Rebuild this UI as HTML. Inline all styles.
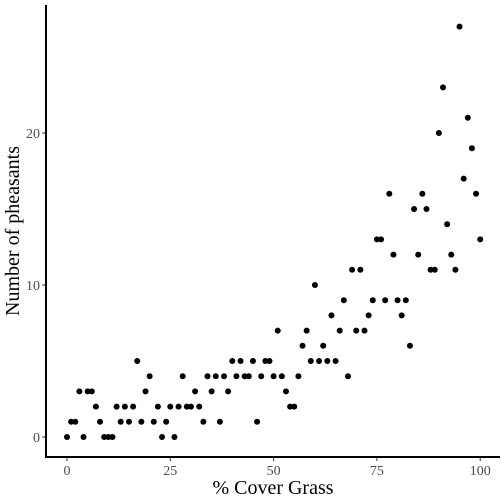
<!DOCTYPE html>
<html><head><meta charset="utf-8"><style>
body{margin:0;background:#fff}
svg{display:block;font-family:"Liberation Serif",serif}
</style></head><body>
<svg id="chart" width="504" height="504" viewBox="0 0 504 504" xmlns="http://www.w3.org/2000/svg">
<g id="ticks"></g>
<g id="points"></g>
<line x1="46" y1="5" x2="46" y2="457" stroke="#000" stroke-width="2"/>
<line x1="45" y1="457" x2="500" y2="457" stroke="#000" stroke-width="2"/>
<text x="273" y="494" font-size="20" text-anchor="middle">% Cover Grass</text>
<text transform="translate(19,231) rotate(-90)" font-size="20" text-anchor="middle">Number of pheasants</text>
</svg>
<script>
const coverGrass = [];
for (let i = 0; i <= 100; i++) coverGrass.push(i);
const pheasants = [0,1,1,3,0,3,3,2,1,0,0,0,2,1,2,1,2,5,1,3,4,1,2,0,1,2,0,2,4,2,2,3,2,1,4,3,4,1,4,3,5,4,5,4,4,5,1,4,5,5,4,7,4,3,2,2,4,6,7,5,10,5,6,5,8,5,7,9,4,11,7,11,7,8,9,13,13,9,16,12,9,8,9,6,15,12,16,15,11,11,20,23,14,12,11,27,17,21,19,16,13];
const xTicks = [0,25,50,75,100];
const yTicks = [0,10,20];
const NS='http://www.w3.org/2000/svg';
const xs = v => 67 + v*4.132;
const ys = v => 437 - v*15.2;
const tg = document.getElementById('ticks');
xTicks.forEach(t=>{
  const l=document.createElementNS(NS,'line');
  l.setAttribute('x1',xs(t));l.setAttribute('x2',xs(t));l.setAttribute('y1',458);l.setAttribute('y2',461);l.setAttribute('stroke','#333');
  
  
  tg.appendChild(l);
  const tx=document.createElementNS(NS,'text');
  tx.setAttribute('x',xs(t));tx.setAttribute('y',475);tx.setAttribute('text-anchor','middle');tx.setAttribute('font-size','14');tx.setAttribute('fill','#4d4d4d');
  tx.textContent=t;
  
  
  tg.appendChild(tx);
});
yTicks.forEach(t=>{
  const l=document.createElementNS(NS,'line');
  l.setAttribute('x1',42);l.setAttribute('x2',45);l.setAttribute('y1',ys(t));l.setAttribute('y2',ys(t));l.setAttribute('stroke','#333');
  
  
  tg.appendChild(l);
  const tx=document.createElementNS(NS,'text');
  tx.setAttribute('x',40);tx.setAttribute('y',ys(t)+5);tx.setAttribute('text-anchor','end');tx.setAttribute('font-size','14');tx.setAttribute('fill','#4d4d4d');
  tx.textContent=t;
  
  
  tg.appendChild(tx);
});
const pg=document.getElementById('points');
coverGrass.forEach((x,i)=>{
  const c=document.createElementNS(NS,'circle');
  c.setAttribute('cx',xs(x));c.setAttribute('cy',ys(pheasants[i]));c.setAttribute('r',3);c.setAttribute('fill','#000');
  
  
  pg.appendChild(c);
});
</script>
</body></html>
